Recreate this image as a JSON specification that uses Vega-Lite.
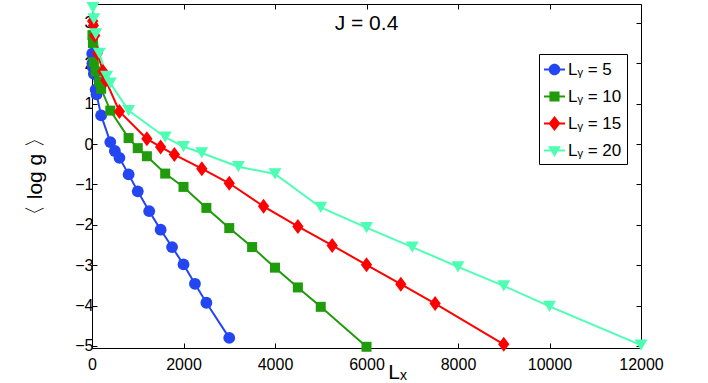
{
  "$schema": "https://vega.github.io/schema/vega-lite/v6.json",
  "width": 549,
  "height": 344,
  "autosize": "none",
  "padding": {"left": 92, "top": 4, "right": 67, "bottom": 35},
  "background": "white",
  "config": {
    "font": "Liberation Sans",
    "view": {"stroke": null},
    "axis": {"grid": false, "domainColor": "black", "tickColor": "black", "labelColor": "black", "labelFontSize": 16, "labelFont": "Liberation Sans", "titleFont": "Liberation Sans", "titleFontWeight": "normal", "titleColor": "black", "tickSize": -5, "domainWidth": 1, "tickWidth": 1, "format": "d"}
  },
  "datasets": {
    "curves": [
      {"Ly": "Ly = 5", "Lx": 5, "g": 2.24},
      {"Ly": "Ly = 5", "Lx": 10, "g": 2.0},
      {"Ly": "Ly = 5", "Lx": 20, "g": 1.9},
      {"Ly": "Ly = 5", "Lx": 40, "g": 1.74},
      {"Ly": "Ly = 5", "Lx": 80, "g": 1.35},
      {"Ly": "Ly = 5", "Lx": 100, "g": 1.23},
      {"Ly": "Ly = 5", "Lx": 200, "g": 0.71},
      {"Ly": "Ly = 5", "Lx": 400, "g": 0.05},
      {"Ly": "Ly = 5", "Lx": 500, "g": -0.17},
      {"Ly": "Ly = 5", "Lx": 600, "g": -0.34},
      {"Ly": "Ly = 5", "Lx": 800, "g": -0.75},
      {"Ly": "Ly = 5", "Lx": 1000, "g": -1.17},
      {"Ly": "Ly = 5", "Lx": 1250, "g": -1.66},
      {"Ly": "Ly = 5", "Lx": 1500, "g": -2.12},
      {"Ly": "Ly = 5", "Lx": 1750, "g": -2.55},
      {"Ly": "Ly = 5", "Lx": 2000, "g": -2.98},
      {"Ly": "Ly = 5", "Lx": 2250, "g": -3.46},
      {"Ly": "Ly = 5", "Lx": 2500, "g": -3.93},
      {"Ly": "Ly = 5", "Lx": 3000, "g": -4.8},
      {"Ly": "Ly = 10", "Lx": 10, "g": 2.7},
      {"Ly": "Ly = 10", "Lx": 20, "g": 2.5},
      {"Ly": "Ly = 10", "Lx": 40, "g": 2.03},
      {"Ly": "Ly = 10", "Lx": 80, "g": 1.8},
      {"Ly": "Ly = 10", "Lx": 160, "g": 1.55},
      {"Ly": "Ly = 10", "Lx": 200, "g": 1.37},
      {"Ly": "Ly = 10", "Lx": 400, "g": 0.83},
      {"Ly": "Ly = 10", "Lx": 800, "g": 0.15},
      {"Ly": "Ly = 10", "Lx": 1000, "g": -0.1},
      {"Ly": "Ly = 10", "Lx": 1200, "g": -0.3},
      {"Ly": "Ly = 10", "Lx": 1600, "g": -0.73},
      {"Ly": "Ly = 10", "Lx": 2000, "g": -1.06},
      {"Ly": "Ly = 10", "Lx": 2500, "g": -1.58},
      {"Ly": "Ly = 10", "Lx": 3000, "g": -2.08},
      {"Ly": "Ly = 10", "Lx": 3500, "g": -2.55},
      {"Ly": "Ly = 10", "Lx": 4000, "g": -3.06},
      {"Ly": "Ly = 10", "Lx": 4500, "g": -3.55},
      {"Ly": "Ly = 10", "Lx": 5000, "g": -4.03},
      {"Ly": "Ly = 10", "Lx": 6000, "g": -5.02},
      {"Ly": "Ly = 15", "Lx": 15, "g": 3.05},
      {"Ly": "Ly = 15", "Lx": 30, "g": 2.94},
      {"Ly": "Ly = 15", "Lx": 60, "g": 2.69},
      {"Ly": "Ly = 15", "Lx": 120, "g": 2.25},
      {"Ly": "Ly = 15", "Lx": 240, "g": 1.8},
      {"Ly": "Ly = 15", "Lx": 300, "g": 1.58},
      {"Ly": "Ly = 15", "Lx": 600, "g": 0.81},
      {"Ly": "Ly = 15", "Lx": 1200, "g": 0.13},
      {"Ly": "Ly = 15", "Lx": 1500, "g": -0.07},
      {"Ly": "Ly = 15", "Lx": 1800, "g": -0.26},
      {"Ly": "Ly = 15", "Lx": 2400, "g": -0.61},
      {"Ly": "Ly = 15", "Lx": 3000, "g": -0.97},
      {"Ly": "Ly = 15", "Lx": 3750, "g": -1.54},
      {"Ly": "Ly = 15", "Lx": 4500, "g": -2.04},
      {"Ly": "Ly = 15", "Lx": 5250, "g": -2.51},
      {"Ly": "Ly = 15", "Lx": 6000, "g": -2.99},
      {"Ly": "Ly = 15", "Lx": 6750, "g": -3.47},
      {"Ly": "Ly = 15", "Lx": 7500, "g": -3.95},
      {"Ly": "Ly = 15", "Lx": 9000, "g": -4.96},
      {"Ly": "Ly = 20", "Lx": 20, "g": 3.38},
      {"Ly": "Ly = 20", "Lx": 40, "g": 3.1},
      {"Ly": "Ly = 20", "Lx": 80, "g": 2.73},
      {"Ly": "Ly = 20", "Lx": 160, "g": 2.25},
      {"Ly": "Ly = 20", "Lx": 320, "g": 1.68},
      {"Ly": "Ly = 20", "Lx": 400, "g": 1.51},
      {"Ly": "Ly = 20", "Lx": 800, "g": 0.83},
      {"Ly": "Ly = 20", "Lx": 1600, "g": 0.17},
      {"Ly": "Ly = 20", "Lx": 2000, "g": -0.06},
      {"Ly": "Ly = 20", "Lx": 2400, "g": -0.22},
      {"Ly": "Ly = 20", "Lx": 3200, "g": -0.56},
      {"Ly": "Ly = 20", "Lx": 4000, "g": -0.74},
      {"Ly": "Ly = 20", "Lx": 5000, "g": -1.57},
      {"Ly": "Ly = 20", "Lx": 6000, "g": -2.07},
      {"Ly": "Ly = 20", "Lx": 7000, "g": -2.55},
      {"Ly": "Ly = 20", "Lx": 8000, "g": -3.04},
      {"Ly": "Ly = 20", "Lx": 9000, "g": -3.51},
      {"Ly": "Ly = 20", "Lx": 10000, "g": -4.02},
      {"Ly": "Ly = 20", "Lx": 12000, "g": -4.98}
    ],
    "heading": [{"label": "J = 0.4"}]
  },
  "data": {"name": "curves"},
  "resolve": {"axis": {"x": "independent", "y": "independent"}},
  "layer": [
    {
      "mark": {"type": "line", "strokeWidth": 2},
      "encoding": {
        "x": {"field": "Lx", "type": "quantitative", "scale": {"domain": [0, 12000], "nice": false, "zero": false},
              "axis": {"orient": "bottom", "title": "Lₓ", "titleFontSize": 21, "titleX": 305, "titleY": 30, "titleAlign": "center", "titleBaseline": "alphabetic", "values": [0, 2000, 4000, 6000, 8000, 10000, 12000], "labelPadding": 13, "labelFlush": false, "labelOverlap": false}},
        "y": {"field": "g", "type": "quantitative", "scale": {"domain": [-5.05, 3.47], "nice": false, "zero": false},
              "axis": {"orient": "left", "title": "〈 log g 〉", "titleFontSize": 21, "values": [-5, -4, -3, -2, -1, 0, 1, 2, 3], "labelPadding": 4, "titlePadding": 29, "labelFlush": false, "labelOverlap": false}},
        "color": {"field": "Ly", "type": "nominal",
                  "scale": {"domain": ["Ly = 5", "Ly = 10", "Ly = 15", "Ly = 20"], "range": ["#2346f2", "#1f9b0c", "#ff0000", "#4dffb3"]},
                  "legend": {
                    "title": null, "orient": "none", "legendX": 447, "legendY": 50,
                    "strokeColor": "black", "fillColor": "white", "padding": 5, "cornerRadius": 0,
                    "labelFontSize": 17, "labelFont": "Liberation Sans", "labelColor": "black", "labelOffset": 3,
                    "symbolSize": 441, "rowPadding": 8, "symbolType": "circle", "symbolStrokeWidth": 0,
                    "labelExpr": "replace(datum.label, 'Ly', 'Lᵧ')",
                    "encode": {"symbols": {"update": {
                      "shape": {"signal": "datum.value === 'Ly = 5' ? 'M-1,-0.1H1V0.1H-1Z M0.55,0A0.55,0.55 0 1,1 -0.55,0A0.55,0.55 0 1,1 0.55,0Z' : datum.value === 'Ly = 10' ? 'M-1,-0.1H1V0.1H-1Z M-0.48,-0.48H0.48V0.48H-0.48Z' : datum.value === 'Ly = 15' ? 'M-1,-0.1H1V0.1H-1Z M0,-0.71L0.57,0L0,0.71L-0.57,0Z' : 'M-1,-0.1H1V0.1H-1Z M-0.62,-0.4L0.62,-0.4L0,0.62Z'"},
                      "fill": {"scale": "color", "field": "value"},
                      "stroke": {"value": "transparent"},
                      "strokeWidth": {"value": 0},
                      "opacity": {"value": 1}
                    }}}
                  }}
      }
    },
    {
      "transform": [{"filter": "datum.Ly === 'Ly = 5'"}],
      "mark": {"type": "point", "filled": true, "opacity": 1, "shape": "circle", "size": 140},
      "encoding": {
        "x": {"field": "Lx", "type": "quantitative", "axis": null},
        "y": {"field": "g", "type": "quantitative", "axis": null},
        "color": {"field": "Ly", "type": "nominal", "legend": null}
      }
    },
    {
      "transform": [{"filter": "datum.Ly === 'Ly = 10'"}],
      "mark": {"type": "point", "filled": true, "opacity": 1, "shape": "square", "size": 100},
      "encoding": {
        "x": {"field": "Lx", "type": "quantitative", "axis": null},
        "y": {"field": "g", "type": "quantitative", "axis": null},
        "color": {"field": "Ly", "type": "nominal", "legend": null}
      }
    },
    {
      "transform": [{"filter": "datum.Ly === 'Ly = 15'"}],
      "mark": {"type": "point", "filled": true, "opacity": 1, "shape": "M0,-1L0.75,0L0,1L-0.75,0Z", "size": 225},
      "encoding": {
        "x": {"field": "Lx", "type": "quantitative", "axis": null},
        "y": {"field": "g", "type": "quantitative", "axis": null},
        "color": {"field": "Ly", "type": "nominal", "legend": null}
      }
    },
    {
      "transform": [{"filter": "datum.Ly === 'Ly = 20'"}],
      "mark": {"type": "point", "filled": true, "opacity": 1, "shape": "triangle-down", "size": 169},
      "encoding": {
        "x": {"field": "Lx", "type": "quantitative", "axis": null},
        "y": {"field": "g", "type": "quantitative", "axis": null},
        "color": {"field": "Ly", "type": "nominal", "legend": null}
      }
    },
    {
      "data": {"name": "heading"},
      "mark": {"type": "text", "fontSize": 21, "font": "Liberation Sans", "fill": "black", "align": "center", "baseline": "alphabetic"},
      "encoding": {
        "text": {"field": "label", "type": "nominal"},
        "x": {"datum": 6000, "type": "quantitative", "axis": null},
        "y": {"datum": 2.82, "type": "quantitative", "axis": null}
      }
    },
    {
      "mark": {"type": "point", "opacity": 0},
      "encoding": {
        "x": {"field": "Lx", "type": "quantitative", "axis": {"orient": "top", "labels": false, "title": null, "values": [0, 2000, 4000, 6000, 8000, 10000, 12000]}},
        "y": {"field": "g", "type": "quantitative", "axis": {"orient": "right", "labels": false, "title": null, "values": [-5, -4, -3, -2, -1, 0, 1, 2, 3]}}
      }
    }
  ]
}
